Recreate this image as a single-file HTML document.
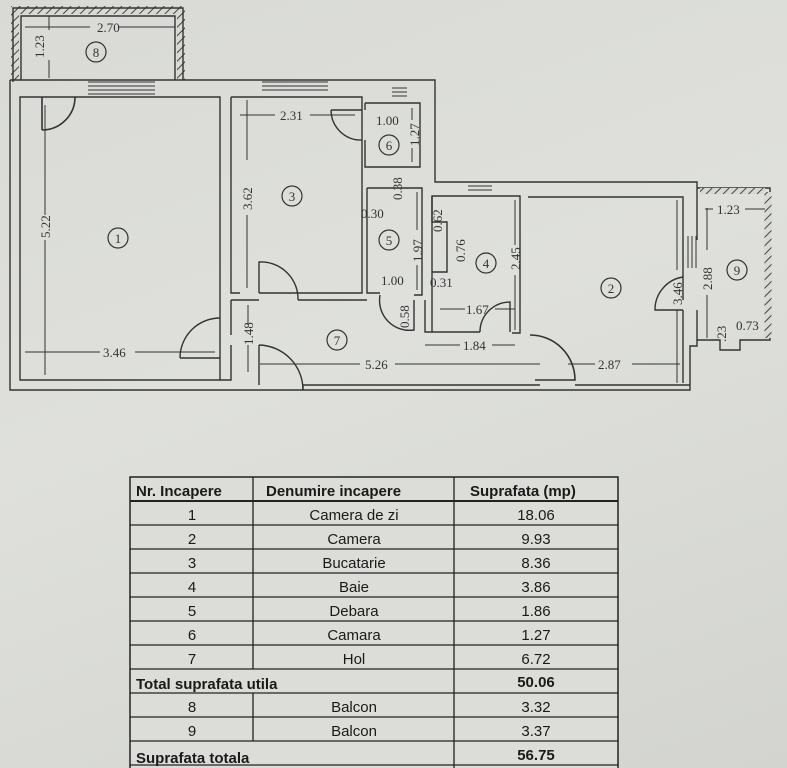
<!DOCTYPE html>
<html><head><meta charset="utf-8"><style>
html,body{margin:0;padding:0}
body{width:787px;height:768px;overflow:hidden;background:linear-gradient(160deg,#d9dad6 0%,#dfe0dc 45%,#d3d4d0 100%);}
svg{position:absolute;left:0;top:0}
text{font-family:"Liberation Serif",serif;fill:#333;font-size:13px}
.t{font-family:"Liberation Sans",sans-serif;font-size:15px;fill:#1a1a1a}
.b{font-weight:bold}
</style></head><body>
<svg width="787" height="768" viewBox="0 0 787 768">
<defs>
<pattern id="h" width="6" height="6" patternUnits="userSpaceOnUse" patternTransform="rotate(45)"><rect width="6" height="6" fill="#d8d8d4"/><line x1="0" y1="0" x2="0" y2="6" stroke="#444" stroke-width="2"/></pattern>
</defs>
<g fill="none" stroke="#333" stroke-width="1.4">
<path d="M15 80 V10 H181 V80" stroke-width="8" stroke="url(#h)"/>
<path d="M13 82 V8 H183 V80 M21 80 V16 H175 V80"/>
<path d="M10 80 H435 V182 H697 V188 M697 340 V346 H690 V390 H10 V80"/>
<path d="M20 97 H220 V380 H20 Z"/>
<path d="M231 97 H362 V293 H259 M231 97 V293 H240"/>
<path d="M365 103 H420 V167 H365 V140 M365 103 V110"/>
<path d="M367 188 H422 V295 H414 M367 188 V293 H380"/>
<path d="M231 300 H259 M298 300 H367 M231 300 V335 M231 345 V380 H220 M259 345 V385 M303 390 V385 H540 M575 385 H690"/>
<path d="M425 300 V332 H432 V196 H520 V333 H512 M432 332 H480"/>
<path d="M528 197 H683 V300 M683 310 V383"/>
<path d="M432 196 V222 H447 V272 H432"/>
<path d="M697 188 H770 V340 H740 V350 H720 V340 H697 V310 M697 188 V240" />
<path d="M768 192 V338" stroke-width="7" stroke="url(#h)"/>
<path d="M700 191 H765" stroke-width="6" stroke="url(#h)"/>
<path d="M88 82 H155 M88 86 H155 M88 90 H155 M88 94 H155" stroke-width="1"/>
<path d="M262 82 H328 M262 86 H328 M262 90 H328" stroke-width="1"/>
<path d="M392 88 H407 M392 92 H407 M392 96 H407" stroke-width="1"/>
<path d="M468 182 H492 M468 186 H492 M468 190 H492" stroke-width="1"/>
<path d="M688 236 V268 M692 236 V268 M696 236 V268" stroke-width="1"/>
<path d="M42 97 V130 M42 130 A33 33 0 0 0 75 97" stroke-width="1.6"/>
<path d="M259 293 V262 A37 37 0 0 1 298 300"/>
<path d="M331 110 H362 M331 110 A30 30 0 0 0 362 140"/>
<path d="M414 300 V330 A30 30 0 0 1 380 295"/>
<path d="M180 358 H220 M180 358 A40 40 0 0 1 220 318"/>
<path d="M259 345 A45 45 0 0 1 303 390"/>
<path d="M480 332 A30 30 0 0 1 510 302 V332"/>
<path d="M535 380 H575 A45 45 0 0 0 530 335" stroke-width="1.6"/>
<path d="M683 310 H655 A33 33 0 0 1 683 277"/>
</g>
<g stroke="#333" stroke-width="1" fill="none">
<path d="M25 27 H90 M118 27 H175"/><path d="M49 16 V30 M49 60 V78"/>
<path d="M45 105 V215 M45 240 V375"/>
<path d="M25 352 H100 M135 352 H215"/>
<path d="M240 115 H275 M310 115 H355"/>
<path d="M247 100 V160 M247 215 V288"/>
<path d="M412 108 V120 M412 148 V162"/>
<path d="M417 192 V230 M417 265 V290"/>
<path d="M248 305 V325 M248 345 V372"/>
<path d="M260 364 H360 M395 364 H540 M568 364 H595 M632 364 H680"/>
<path d="M425 345 H460 M492 345 H515"/>
<path d="M440 309 H465 M495 309 H515"/>
<path d="M515 200 V245 M515 275 V330"/>
<path d="M677 200 V270 M677 310 V383"/>
<path d="M707 208 V250 M707 295 V338"/>
<path d="M705 209 H713 M745 209 H765"/>
</g>
<g>
<text x="97" y="32">2.70</text>
<text x="44" y="58" transform="rotate(-90 44 58)">1.23</text>
<text x="50" y="238" transform="rotate(-90 50 238)">5.22</text>
<text x="103" y="357">3.46</text>
<text x="280" y="120">2.31</text>
<text x="252" y="210" transform="rotate(-90 252 210)">3.62</text>
<text x="376" y="125">1.00</text>
<text x="419" y="146" transform="rotate(-90 419 146)">1.27</text>
<text x="361" y="218">0.30</text>
<text x="402" y="200" transform="rotate(-90 402 200)" font-size="12">0.38</text>
<text x="422" y="262" transform="rotate(-90 422 262)">1.97</text>
<text x="381" y="285">1.00</text>
<text x="409" y="328" transform="rotate(-90 409 328)">0.58</text>
<text x="253" y="345" transform="rotate(-90 253 345)">1.48</text>
<text x="365" y="369">5.26</text>
<text x="598" y="369">2.87</text>
<text x="463" y="350">1.84</text>
<text x="466" y="314">1.67</text>
<text x="430" y="287">0.31</text>
<text x="442" y="232" transform="rotate(-90 442 232)">0.62</text>
<text x="465" y="262" transform="rotate(-90 465 262)">0.76</text>
<text x="520" y="270" transform="rotate(-90 520 270)">2.45</text>
<text x="682" y="305" transform="rotate(-90 682 305)">3.46</text>
<text x="712" y="290" transform="rotate(-90 712 290)">2.88</text>
<text x="717" y="214">1.23</text>
<text x="736" y="330" font-size="12">0.73</text>
<text x="726" y="342" transform="rotate(-90 726 342)" font-size="11">.23</text>
</g>
<g fill="none" stroke="#333" stroke-width="1.2">
<circle cx="96" cy="52" r="10"/><circle cx="118" cy="238" r="10"/><circle cx="292" cy="196" r="10"/>
<circle cx="389" cy="145" r="10"/><circle cx="389" cy="240" r="10"/><circle cx="486" cy="263" r="10"/>
<circle cx="611" cy="288" r="10"/><circle cx="337" cy="340" r="10"/><circle cx="737" cy="270" r="10"/>
</g>
<g text-anchor="middle">
<text x="96" y="57" font-size="12">8</text><text x="118" y="243" font-size="12">1</text><text x="292" y="201" font-size="12">3</text>
<text x="389" y="150" font-size="12">6</text><text x="389" y="245" font-size="12">5</text><text x="486" y="268" font-size="12">4</text>
<text x="611" y="293" font-size="12">2</text><text x="337" y="345" font-size="12">7</text><text x="737" y="275" font-size="12">9</text>
</g>
<rect x="130" y="477" width="488" height="295" fill="#dcdcd8" stroke="#222" stroke-width="1.5"/>
<g stroke="#222" stroke-width="1.3">
<line x1="130" y1="501" x2="618" y2="501" stroke-width="2"/>
<line x1="130" y1="525" x2="618" y2="525"/><line x1="130" y1="549" x2="618" y2="549"/>
<line x1="130" y1="573" x2="618" y2="573"/><line x1="130" y1="597" x2="618" y2="597"/>
<line x1="130" y1="621" x2="618" y2="621"/><line x1="130" y1="645" x2="618" y2="645"/>
<line x1="130" y1="669" x2="618" y2="669"/><line x1="130" y1="693" x2="618" y2="693"/>
<line x1="130" y1="717" x2="618" y2="717"/><line x1="130" y1="741" x2="618" y2="741"/>
<line x1="130" y1="765" x2="618" y2="765"/>
<line x1="253" y1="477" x2="253" y2="669"/><line x1="253" y1="693" x2="253" y2="741"/>
<line x1="454" y1="477" x2="454" y2="768"/>
</g>
<text x="136" y="496" class="t b">Nr. Incapere</text>
<text x="266" y="496" class="t b">Denumire incapere</text>
<text x="470" y="496" class="t b">Suprafata (mp)</text>
<g text-anchor="middle">
<text x="192" y="520" class="t">1</text><text x="354" y="520" class="t">Camera de zi</text><text x="536" y="520" class="t">18.06</text>
<text x="192" y="544" class="t">2</text><text x="354" y="544" class="t">Camera</text><text x="536" y="544" class="t">9.93</text>
<text x="192" y="568" class="t">3</text><text x="354" y="568" class="t">Bucatarie</text><text x="536" y="568" class="t">8.36</text>
<text x="192" y="592" class="t">4</text><text x="354" y="592" class="t">Baie</text><text x="536" y="592" class="t">3.86</text>
<text x="192" y="616" class="t">5</text><text x="354" y="616" class="t">Debara</text><text x="536" y="616" class="t">1.86</text>
<text x="192" y="640" class="t">6</text><text x="354" y="640" class="t">Camara</text><text x="536" y="640" class="t">1.27</text>
<text x="192" y="664" class="t">7</text><text x="354" y="664" class="t">Hol</text><text x="536" y="664" class="t">6.72</text>
<text x="536" y="687" class="t b">50.06</text>
<text x="192" y="712" class="t">8</text><text x="354" y="712" class="t">Balcon</text><text x="536" y="712" class="t">3.32</text>
<text x="192" y="736" class="t">9</text><text x="354" y="736" class="t">Balcon</text><text x="536" y="736" class="t">3.37</text>
<text x="536" y="760" class="t b">56.75</text>
</g>
<text x="136" y="689" class="t b">Total suprafata utila</text>
<text x="136" y="763" class="t b">Suprafata totala</text>
</svg>
</body></html>
